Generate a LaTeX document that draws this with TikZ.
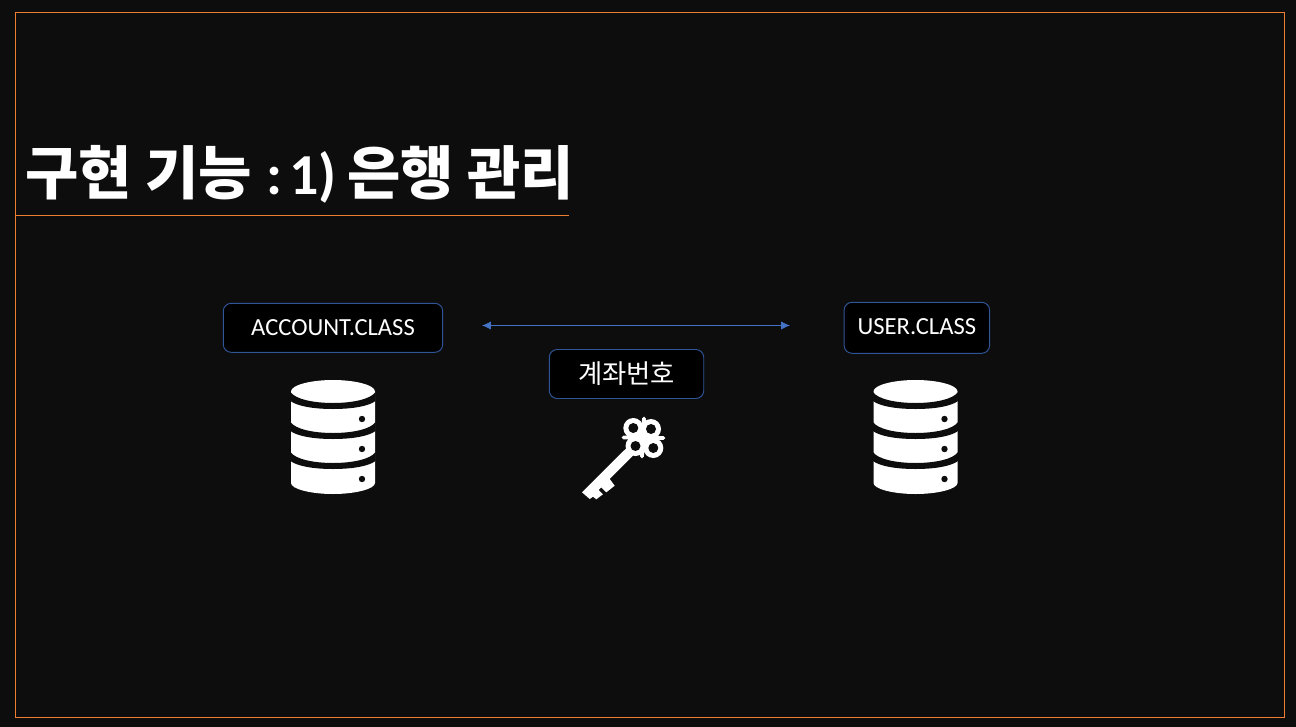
\documentclass[tikz,border=0pt]{standalone}
\usepackage{fontspec}
\setmainfont{Carlito}
\newfontfamily\krfont{Noto Sans CJK KR}
\usetikzlibrary{arrows.meta, positioning}
\definecolor{slidebg}{RGB}{13,13,13}
\definecolor{frameorange}{RGB}{237,125,49}
\definecolor{boxblue}{RGB}{47,85,151}
\definecolor{linkblue}{RGB}{68,114,196}

\tikzset{
    dbicon/.pic={
        \fill[white] (-42,-45.5) .. controls (-42,-52) and (-22,-57) .. (0,-57)
            .. controls (22,-57) and (42,-52) .. (42,-45.5) -- (42,46)
            .. controls (42,52) and (22,57) .. (0,57)
            .. controls (-22,57) and (-42,52) .. (-42,46) -- cycle;
        \foreach \yy in {0,30,60} {
            \fill[slidebg, shift={(0,\yy)}] (-42.5,-45) .. controls (-38,-38) and (-20,-34) .. (0,-34)
                .. controls (20,-34) and (38,-38) .. (42.5,-45) -- (42.5,-36)
                .. controls (36,-31) and (20,-28) .. (0,-28)
                .. controls (-20,-28) and (-36,-31) .. (-42.5,-36) -- cycle;
            \fill[slidebg] (29,-18+\yy) circle (3.2);
        }
    },
    keyicon/.pic={
        \fill[white] (-17.5,11) -- (-61.5,54.8) -- (-53.8,61.5) -- (-50.5,59.2) -- (-47.2,61.8)
            -- (-40.5,56.8) -- (-44.8,52.5) -- (-42.2,49.8) -- (-37.2,54.8) -- (-28.8,48.2)
            -- (-33.8,41.5) -- (-6.8,14.5) -- cycle;
        \fill[white] (0,0) circle (12);
        \foreach \lx/\ly in {-10.2/-9.5, 7.5/-8.5, -8/8.5, 9.8/10.5}
            \fill[white] (\lx,\ly) circle (10);
        \draw[white, line width=2.2pt, line cap=round] (0.5,-19) -- (-1.5,19);
        \draw[white, line width=2.2pt, line cap=round] (-20,0) -- (20,0.5);
        \foreach \lx/\ly in {-10.2/-9.5, 7.5/-8.5, -8/8.5, 9.8/10.5}
            \fill[slidebg] (\lx,\ly) circle (5);
    },
}

\begin{document}
\begin{tikzpicture}[
    x=0.02cm, y=-0.02cm,
    clsbox/.style={rectangle, draw=boxblue, fill=black, line width=0.55pt, rounded corners=4.5pt,
                   inner sep=0pt, minimum height=0.98cm, text=white, align=center, font=\fontsize{14}{17}\selectfont},
    link/.style={{Latex[length=5pt,width=4.6pt]}-{Latex[length=5pt,width=4.6pt]}, linkblue, line width=0.45pt},
]
    \fill[slidebg] (0,0) rectangle (1296,727);
    \useasboundingbox (0,0) rectangle (1296,727);
    \draw[frameorange, line width=0.5pt] (15.5,12.5) rectangle (1284.5,717.5);

    \node[anchor=base west, inner sep=0pt, text=white, font=\fontsize{33}{39}\selectfont\bfseries] (title) at (25,194.5)
        {\krfont 구현 기능\hspace{8pt}\rmfamily:\hspace{4.2pt}1)\hspace{6pt}\krfont 은행 관리};
    \draw[frameorange, line width=0.5pt] (15,215.5) -- (569,215.5);

    \node[clsbox, minimum width=4.39cm] (account) at (333,327.8) {ACCOUNT.CLASS};
    \node[clsbox, minimum width=2.91cm, minimum height=1.02cm, right=8.01cm of account] (user) {\raisebox{1pt}{USER.CLASS}};
    \node[clsbox, minimum width=3.09cm] (bankno) at (626.5,374)
        {\krfont\fontsize{15}{18}\selectfont\raisebox{2pt}{계좌번호}};

    \coordinate (linkl) at (482,325.5);
    \coordinate (linkr) at (790,325.5);
    \draw[link] (linkl) -- (linkr);

    \pic (accountdb) at (333,437) {dbicon};
    \pic (userdb) at (915.5,437) {dbicon};
    \pic (bankkey) at (643.5,437.5) {keyicon};
\end{tikzpicture}
\end{document}
